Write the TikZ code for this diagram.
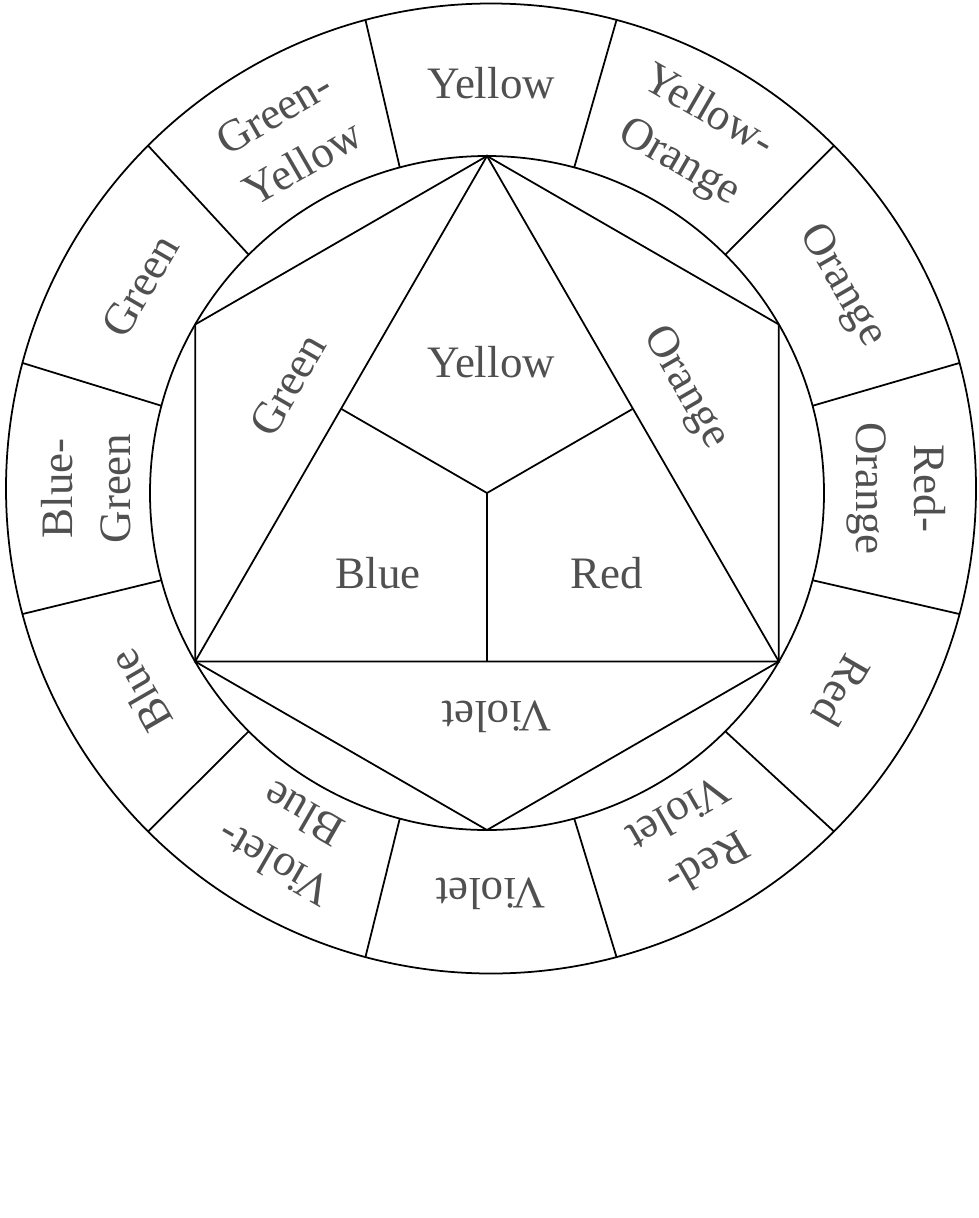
\documentclass[tikz,border=0pt]{standalone}
\usepackage{fontspec}
\setmainfont{Liberation Serif}
\definecolor{txtgray}{RGB}{80,80,80}

\begin{document}
\begin{tikzpicture}[line width=0.5pt,
  lbl/.style={text=txtgray,font=\fontsize{12.8}{16.5}\selectfont,align=center,inner sep=0pt}]

  \useasboundingbox (0,0) rectangle (9.79,-12.18);

  \coordinate (oc) at (4.91,-4.885);
  \coordinate (ic) at (4.87,-4.93);

  % the two rings
  \draw (oc) circle (4.85);
  \draw (ic) circle (3.37);

  % spokes between the rings
  \foreach \a in {15,45,...,345}{
    \coordinate (si\a) at ([shift={(\a:3.37)}]ic);
    \coordinate (so\a) at ([shift={(\a:4.85)}]oc);
    \draw (si\a) -- (so\a);
  }

  % hexagon and triangle
  \foreach \a in {30,90,...,330}
    \coordinate (v\a) at ([shift={(\a:3.37)}]ic);
  \foreach \a in {30,150,270}
    \coordinate (m\a) at ([shift={(\a:1.685)}]ic);

  \draw (v90) -- (v30) -- (v330) -- (v270) -- (v210) -- (v150) -- cycle;
  \draw (v90) -- (v210) -- (v330) -- cycle;
  \draw (ic) -- (m30) (ic) -- (m150) (ic) -- (m270);

  % inner labels
  \node[lbl] (yellow) at ([shift={(0.04,1.31)}]ic) {Yellow};
  \node[lbl] (blue) at ([shift={(-1.09,-0.80)}]ic) {Blue};
  \node[lbl] (red) at ([shift={(1.20,-0.80)}]ic) {Red};
  \node[lbl,rotate=60] (green) at ([shift={(-1.99,1.08)}]ic) {Green};
  \node[lbl,rotate=-60] (orange) at ([shift={(1.98,1.05)}]ic) {Orange};
  \node[lbl,rotate=180] (violet) at ([shift={(0.10,-2.24)}]ic) {Violet};

  % outer ring labels
  \foreach \a/\t in {90/Yellow, 60/{Yellow-\\Orange}, 30/Orange, 0/{Red-\\Orange},
      330/Red, 300/{Red-\\Violet}, 270/Violet, 240/{Violet-\\Blue},
      210/Blue, 180/{Blue-\\Green}, 150/Green, 120/{Green-\\Yellow}}
    \node[lbl,rotate=\a-90] (o\a) at ([shift={(\a:4.05)}]oc) {\t};

\end{tikzpicture}
\end{document}
